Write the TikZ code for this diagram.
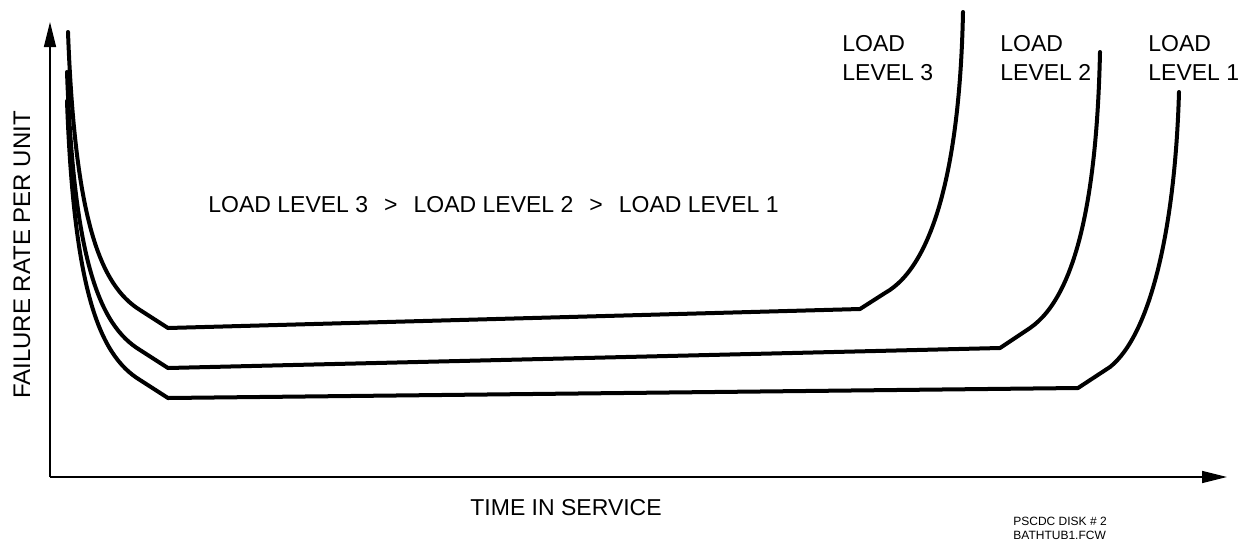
\documentclass[tikz,border=0pt]{standalone}
\usepackage{fontspec}
\setmainfont{Liberation Sans}
\usetikzlibrary{arrows.meta}

\begin{document}
\begin{tikzpicture}[x=0.5pt, y=-0.5pt,
    axis/.style={line width=0.75pt, -{Triangle[length=12.5pt,width=6pt]}},
    tub/.style={line width=2pt, line join=round, line cap=round},
    lbl/.style={font=\fontsize{11.5}{14.5}\selectfont, inner sep=0pt, align=left},
    note/.style={font=\fontsize{6}{7}\selectfont, inner sep=0pt, align=left},
  ]
  \useasboundingbox (0,0) rectangle (1248,542);
  \coordinate (o) at (50,477);
  \coordinate (ytip) at (50,22);
  \coordinate (xtip) at (1227,477);
  \draw[axis] (o) -- (ytip);
  \draw[axis] (o) -- (xtip);
  % bathtub curves, load level 3, 2, 1
  \draw[tub] (68,32) .. controls (75,220) and (100,285) .. (140,310) -- (168,328)
    -- (860,309) -- (885,293) .. controls (935,265) and (960,160) .. (963,12);
  \draw[tub] (67,72) .. controls (74,260) and (99,325) .. (140,350) -- (168,368)
    -- (1000,348) -- (1030,328) .. controls (1078,295) and (1097,190) .. (1100,52);
  \draw[tub] (67,101) .. controls (74,290) and (99,355) .. (140,380) -- (168,398)
    -- (1078,388) -- (1110,367) .. controls (1150,335) and (1175,230) .. (1179,92);
  % labels
  \node[lbl, anchor=north west] (ll3) at (842,35) {LOAD\\LEVEL 3};
  \node[lbl, anchor=north west] (ll2) at (1000,35) {LOAD\\LEVEL 2};
  \node[lbl, anchor=north west] (ll1) at (1148,35) {LOAD\\LEVEL 1};
  \node[lbl, anchor=base west] (order) at (208,212)
    {LOAD LEVEL 3\hspace{8pt}>\hspace{8pt}LOAD LEVEL 2\hspace{8pt}>\hspace{8pt}LOAD LEVEL 1};
  \node[lbl, anchor=base west] (xlabel) at (470,515) {TIME IN SERVICE};
  \node[lbl, font=\fontsize{12}{14}\selectfont, rotate=90] (ylabel) at (22,255)
    {FAILURE RATE PER UNIT};
  \node[note, anchor=north west] (disk) at (1013,517) {PSCDC DISK \# 2\\BATHTUB1.FCW};
\end{tikzpicture}
\end{document}
